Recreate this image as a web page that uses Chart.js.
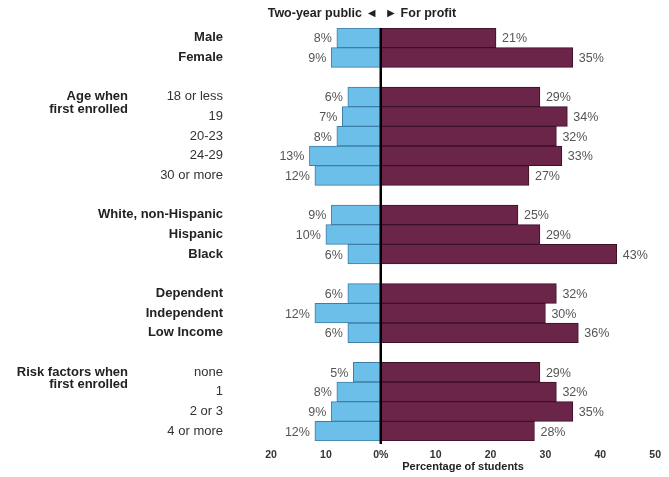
<!DOCTYPE html>
<html>
<head>
<meta charset="utf-8">
<script src="https://cdn.jsdelivr.net/npm/chart.js@4/dist/chart.umd.min.js"></script>
<style>
  html, body { margin: 0; padding: 0; background: #fff; }
</style>
</head>
<body>
<canvas id="chart" width="669" height="477"></canvas>
<script>
  // rows top to bottom; null rows are the gaps between groups
  const categories = [
    "Male", "Female", null,
    "18 or less", "19", "20-23", "24-29", "30 or more", null,
    "White, non-Hispanic", "Hispanic", "Black", null,
    "Dependent", "Independent", "Low Income", null,
    "none", "1", "2 or 3", "4 or more"
  ];
  const boldRows = [
    true, true, false,
    false, false, false, false, false, false,
    true, true, true, false,
    true, true, true, false,
    false, false, false, false
  ];
  const publicValues = [8, 9, null, 6, 7, 8, 13, 12, null, 9, 10, 6, null, 6, 12, 6, null, 5, 8, 9, 12];
  const profitValues = [21, 35, null, 29, 34, 32, 33, 27, null, 25, 29, 43, null, 32, 30, 36, null, 29, 32, 35, 28];
  const groupLabels = [
    { row: 3, lines: ["Age when", "first enrolled"] },
    { row: 17, lines: ["Risk factors when", "first enrolled"] }
  ];
  const xTicks = [-20, -10, 0, 10, 20, 30, 40, 50];

  const FONT = "'Liberation Sans', Arial, Helvetica, sans-serif";

  const extras = {
    id: "extras",
    afterDatasetsDraw(chart) {
      const { ctx, scales: { x, y }, chartArea } = chart;
      ctx.save();

      // value labels
      ctx.font = "12.5px " + FONT;
      ctx.fillStyle = "#555";
      ctx.textBaseline = "middle";
      chart.getDatasetMeta(0).data.forEach((bar, i) => {
        if (publicValues[i] == null) return;
        ctx.textAlign = "right";
        ctx.fillText(publicValues[i] + "%", bar.x - 5, bar.y + 1);
      });
      chart.getDatasetMeta(1).data.forEach((bar, i) => {
        if (profitValues[i] == null) return;
        ctx.textAlign = "left";
        ctx.fillText(profitValues[i] + "%", bar.x + 6, bar.y + 1);
      });

      // zero line
      const x0 = x.getPixelForValue(0);
      ctx.strokeStyle = "#000";
      ctx.lineWidth = 2.5;
      ctx.beginPath();
      ctx.moveTo(x0, chartArea.top);
      ctx.lineTo(x0, chartArea.bottom + 3);
      ctx.stroke();

      // group labels
      ctx.font = "bold 13px " + FONT;
      ctx.fillStyle = "#222";
      ctx.textAlign = "right";
      groupLabels.forEach((g) => {
        const yy = y.getPixelForValue(g.row);
        g.lines.forEach((line, k) => ctx.fillText(line, 128, yy + k * 12.5));
      });

      // header
      ctx.font = "bold 12.5px " + FONT;
      ctx.textAlign = "right";
      ctx.fillText("Two-year public \u25C4", x0 - 3, 14);
      ctx.textAlign = "left";
      ctx.fillText("\u25BA For profit", x0 + 4, 14);

      ctx.restore();
    }
  };

  new Chart(document.getElementById("chart"), {
    type: "bar",
    data: {
      labels: categories.map((c) => c || ""),
      datasets: [
        {
          label: "Two-year public",
          data: publicValues.map((v) => (v == null ? null : -v)),
          backgroundColor: "#6cbfe8",
          borderColor: "#3d7ea6",
          borderWidth: 1,
          borderSkipped: false
        },
        {
          label: "For profit",
          data: profitValues,
          backgroundColor: "#6b2549",
          borderColor: "#3c1028",
          borderWidth: 1,
          borderSkipped: false
        }
      ]
    },
    options: {
      indexAxis: "y",
      responsive: false,
      animation: false,
      barPercentage: 1,
      categoryPercentage: 1,
      layout: { padding: { top: 28, right: 12, left: 0, bottom: 0 } },
      plugins: { legend: { display: false }, tooltip: { enabled: false } },
      scales: {
        x: {
          stacked: true,
          min: -20,
          max: 50,
          afterBuildTicks: (scale) => { scale.ticks = xTicks.map((v) => ({ value: v })); },
          afterFit: (scale) => { scale.height = 36; },
          grid: { display: false, drawTicks: false },
          border: { display: false },
          ticks: {
            padding: 8,
            color: "#333",
            font: { family: FONT, size: 10.5, weight: "bold" },
            callback: (v) => (v === 0 ? "0%" : Math.abs(v))
          },
          title: {
            display: true,
            text: "Percentage of students",
            color: "#222",
            font: { family: FONT, size: 11, weight: "bold" },
            padding: { top: 0, bottom: 3 }
          }
        },
        y: {
          stacked: true,
          afterFit: (scale) => {
            scale.width = 271;
            scale.paddingTop = 0;
            scale.paddingBottom = 0;
          },
          grid: { display: false, drawTicks: false },
          border: { display: false },
          ticks: {
            padding: 48,
            autoSkip: false,
            color: (c) => (boldRows[c.index] ? "#222" : "#333"),
            font: (c) => ({ family: FONT, size: 13, weight: boldRows[c.index] ? "bold" : "normal" })
          }
        }
      }
    },
    plugins: [extras]
  });
</script>
</body>
</html>
